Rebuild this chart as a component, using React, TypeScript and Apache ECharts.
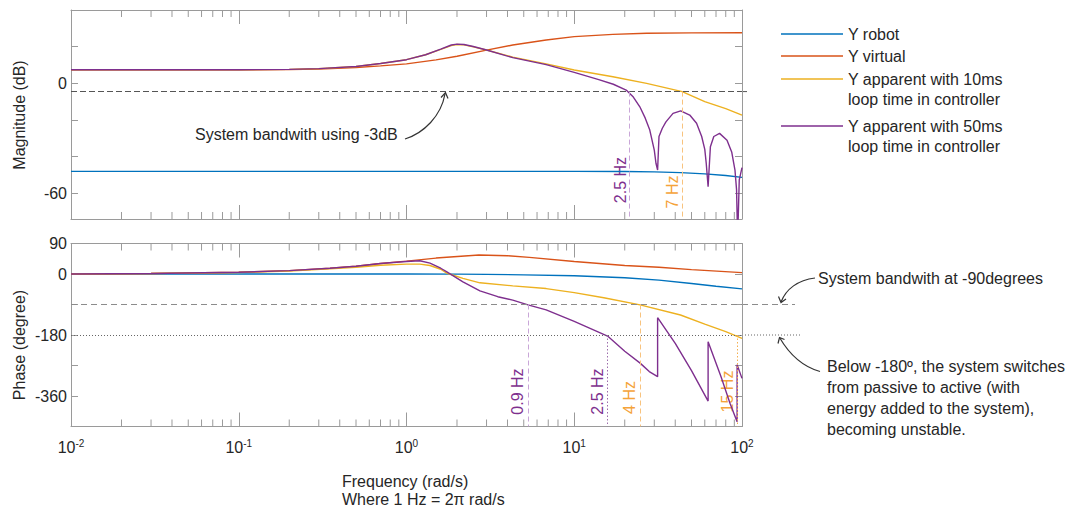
import { useEffect, useRef } from "react";
import * as echarts from "echarts";

// ---------- data (frequency in rad/s, values in dB / degrees) ----------
const SERIES_NAMES = [
  "Y robot",
  "Y virtual",
  "Y apparent with 10ms\nloop time in controller",
  "Y apparent with 50ms\nloop time in controller",
];
const COLORS = ["#0072BD", "#D95319", "#EDB120", "#7E2F8E"];

const magRobot: [number, number][] = [
  [0.01, -48], [1, -48], [10, -48], [20, -48.1], [30, -48.3], [43, -48.7], [60, -49.4], [80, -50.3], [100, -51.3],
];
const magVirtual: [number, number][] = [
  [0.01, 7.4], [0.1, 7.4], [0.2, 7.5], [0.3, 7.8], [0.5, 8.6], [0.7, 9.5], [1, 10.6], [1.5, 12.8], [2, 14.8],
  [3, 18.1], [4.3, 20.9], [6.8, 23.6], [10, 25.5], [17, 26.7], [27, 27.3], [50, 27.5], [100, 27.6],
];
const mag10ms: [number, number][] = [
  [0.01, 7.4], [0.1, 7.4], [0.2, 7.6], [0.3, 8.0], [0.5, 9.2], [0.7, 10.8], [1, 12.9], [1.3, 15.6], [1.6, 18.5],
  [1.85, 20.6], [2, 21.2], [2.2, 21.0], [2.5, 19.9], [3, 18.2], [4.3, 14.3], [6.8, 10.6], [10, 7.3], [17, 3.6],
  [27, 0], [44, -4.5], [60, -10], [80, -13.8], [100, -17.3],
];
const mag50ms: [number, number][] = [
  [0.01, 7.4], [0.1, 7.4], [0.2, 7.6], [0.3, 8.0], [0.5, 9.2], [0.7, 10.8], [1, 12.9], [1.3, 15.6], [1.6, 18.7],
  [1.85, 20.9], [2, 21.4], [2.2, 21.2], [2.5, 20.1], [3, 18.2], [4.3, 14.0], [6.8, 10.2], [10, 6.0], [14, 2.0],
  [17.1, -0.5], [20.4, -3.7], [22.5, -7.5], [24.6, -12.8], [26.5, -19], [28.2, -25.5], [30, -36.4], [30.7, -43.6],
  [31.4, -47.3], [32, -29], [33.5, -24.5], [35.2, -21], [38.8, -16.4], [43.1, -15], [48.8, -17.3], [53.6, -21.8],
  [57.5, -29], [60, -36], [61.2, -43.6], [62.8, -56.4], [64.8, -34.6], [67.9, -29], [73.5, -27.3], [81.4, -31],
  [86.8, -37.4], [90.8, -47.3], [92.8, -58], [94.2, -85], [96.3, -52.7], [100, -46],
];

const phaseRobot: [number, number][] = [
  [0.01, 0], [1, 0], [2, -0.5], [3, -1], [5, -2.5], [10, -5], [20, -11], [32, -18], [50, -28], [70, -36], [100, -44],
];
const phaseVirtual: [number, number][] = [
  [0.01, 0], [0.03, 1.5], [0.1, 5], [0.2, 10], [0.35, 17], [0.5, 23], [0.7, 31], [1, 38], [1.5, 47], [2.7, 56],
  [4, 54], [5.4, 49], [10, 37], [20, 25], [32, 20], [50, 13], [100, 4],
];
const phase10ms: [number, number][] = [
  [0.01, 0], [0.03, 1.5], [0.1, 4.5], [0.2, 9], [0.35, 15], [0.5, 20], [0.7, 26], [1, 29], [1.2, 29], [1.38, 25],
  [1.6, 14], [1.73, 3], [2.17, -13], [2.74, -26], [4.3, -35], [6.8, -43], [10, -55], [15, -70], [24.7, -91],
  [43, -121], [60, -148], [80, -170], [100, -190],
];
const phase50ms: [number, number][] = [
  [0.01, 0], [0.03, 1.5], [0.1, 5], [0.2, 10], [0.35, 17], [0.5, 23], [0.7, 31], [1, 37], [1.2, 39], [1.38, 32],
  [1.6, 17], [1.73, 7], [2.17, -23], [2.74, -50], [3.5, -67], [4.3, -77], [5.3, -91], [6.8, -106], [10, -140],
  [15.8, -183], [20, -228], [24.7, -263], [28, -288], [31.4, -303], [31.4, -129], [40, -205], [50, -285],
  [62.8, -375], [62.8, -200], [75, -303], [85, -383], [93.5, -436], [93.5, -268], [100, -308],
];

const X_EXP_RANGE = [-2, 2]; // decades (10^-2 .. 10^2 rad/s)
const MINOR_DECADES = [-2, -1, 0, 1];
const MINOR_MULTIPLIERS = [2, 3, 4, 5, 6, 7, 8, 9];
const MAG_RANGE = [-74, 40];
const MAG_LABELS = [0, -60];
const PHASE_RANGE = [-450, 90];
const PHASE_LABELS = [90, 0, -180, -360];

const BANDWIDTH_DB = -4.5;
const BANDWIDTH_DEG = -90;
const UNSTABLE_DEG = -180;

// marker frequencies (rad/s) where the curves cross the reference lines
const magMarkers = [
  { f: 21.2, from: BANDWIDTH_DB, label: "2.5 Hz", kind: "p", style: "dash" },
  { f: 44, from: BANDWIDTH_DB, label: "7 Hz", kind: "o", style: "dash" },
];
const phaseMarkers = [
  { f: 5.3, from: BANDWIDTH_DEG, label: "0.9 Hz", kind: "p", style: "dash" },
  { f: 15.8, from: UNSTABLE_DEG, label: "2.5 Hz", kind: "p", style: "dot" },
  { f: 24.7, from: BANDWIDTH_DEG, label: "4 Hz", kind: "o", style: "dash" },
  { f: 93.5, from: UNSTABLE_DEG, label: "15 Hz", kind: "o", style: "dot" },
];

// ---------- styling ----------
const FONT = "'Liberation Sans', Arial, Helvetica, sans-serif";
const TEXT = "#262626";
const FRAME = "#9a9a9a";
const PURPLE_TXT = "#7E2F8E";
const ORANGE_TXT = "#F5A33A";
const LINE_COL: Record<string, Record<string, string>> = {
  p: { dash: "#c9a6d8", dot: "#9c6cab" },
  o: { dash: "#f8c37e", dot: "#f4ae4e" },
};

const lg = (f: number) => Math.log10(f);
const toXY = (pts: [number, number][]) => pts.map(([f, v]) => [lg(f), v]);

const MINOR_TICKS: number[] = [];
MINOR_DECADES.forEach((d) => MINOR_MULTIPLIERS.forEach((m) => MINOR_TICKS.push(lg(m * Math.pow(10, d)))));

export default function App() {
  const ref = useRef<HTMLDivElement>(null);

  useEffect(() => {
    if (!ref.current) return;
    const chart = echarts.init(ref.current, null, { renderer: "svg", width: 1072, height: 510 });

    const grids = [
      { left: 71, top: 10, width: 671, height: 209 },
      { left: 71, top: 243.5, width: 671, height: 183 },
    ];

    const xAxisBase = (gridIndex: number, position: string, showLabel: boolean) => ({
      type: "value",
      gridIndex,
      position,
      min: X_EXP_RANGE[0],
      max: X_EXP_RANGE[1],
      interval: 1,
      axisLine: { show: true, onZero: false, lineStyle: { color: FRAME, width: 1 } },
      axisTick: { show: true, inside: true, length: 14, lineStyle: { color: FRAME, width: 1 } },
      splitLine: { show: false },
      axisLabel: showLabel
        ? {
            show: true,
            margin: 12,
            formatter: (v: number) => `{b|10}{s|${v}}`,
            rich: {
              b: { fontSize: 16, fontFamily: FONT, color: TEXT, lineHeight: 18 },
              s: { fontSize: 10, fontFamily: FONT, color: TEXT, verticalAlign: "top", lineHeight: 11 },
            },
          }
        : { show: false },
    });

    const yAxisBase = (
      gridIndex: number,
      position: string,
      range: number[],
      labels: number[] | null,
      extra: any
    ) => ({
      type: "value",
      gridIndex,
      position,
      min: range[0],
      max: range[1],
      ...extra,
      axisLine: { show: true, onZero: false, lineStyle: { color: FRAME, width: 1 } },
      axisTick: { show: true, inside: true, length: 7, lineStyle: { color: FRAME, width: 1 } },
      splitLine: { show: false },
      axisLabel: labels
        ? {
            show: true,
            margin: 4,
            fontSize: 16,
            fontFamily: FONT,
            color: TEXT,
            formatter: (v: number) => (labels.indexOf(v) >= 0 ? String(v) : ""),
          }
        : { show: false },
    });

    const minorTickSeries = (xi: number, yi: number, range: number[]) => ({
      type: "custom",
      xAxisIndex: xi,
      yAxisIndex: yi,
      silent: true,
      z: 5,
      data: MINOR_TICKS.map((v) => [v, range[0]]),
      encode: { x: 0, y: 1 },
      renderItem: (_p: any, api: any) => {
        const x = api.value(0);
        const b = api.coord([x, range[0]]);
        const t = api.coord([x, range[1]]);
        return {
          type: "group",
          children: [
            { type: "line", shape: { x1: b[0], y1: b[1], x2: b[0], y2: b[1] - 7 }, style: { stroke: FRAME, lineWidth: 1 } },
            { type: "line", shape: { x1: t[0], y1: t[1], x2: t[0], y2: t[1] + 7 }, style: { stroke: FRAME, lineWidth: 1 } },
          ],
        };
      },
    });

    const lineSeries = (name: string, color: string, pts: [number, number][], xi: number, yi: number, markLine?: any) => ({
      type: "line",
      name,
      xAxisIndex: xi,
      yAxisIndex: yi,
      data: toXY(pts),
      showSymbol: false,
      symbol: "none",
      clip: true,
      lineStyle: { color, width: 1.4 },
      itemStyle: { color },
      z: 3,
      ...(markLine ? { markLine } : {}),
    });

    const vLine = (m: any, bottom: number) => [
      {
        coord: [lg(m.f), m.from],
        lineStyle: { color: LINE_COL[m.kind][m.style], type: m.style === "dash" ? [5, 3] : [1.5, 2], width: 1 },
      },
      { coord: [lg(m.f), bottom + 0.5] },
    ];

    const magMarkLine = {
      silent: true,
      symbol: ["none", "none"],
      label: { show: false },
      animation: false,
      data: [
        { yAxis: BANDWIDTH_DB, lineStyle: { color: "#555", type: [6, 3], width: 1 } },
        ...magMarkers.map((m) => vLine(m, MAG_RANGE[0])),
      ],
    };
    const phaseMarkLine = {
      silent: true,
      symbol: ["none", "none"],
      label: { show: false },
      animation: false,
      data: [
        { yAxis: BANDWIDTH_DEG, lineStyle: { color: "#8c8c8c", type: [6, 4], width: 1 } },
        { yAxis: UNSTABLE_DEG, lineStyle: { color: "#666", type: [1, 2], width: 1 } },
        ...phaseMarkers.map((m) => vLine(m, PHASE_RANGE[0])),
      ],
    };

    // pixel helpers for annotations (same geometry as grids)
    const gx = (f: number) => 71 + ((lg(f) - X_EXP_RANGE[0]) / (X_EXP_RANGE[1] - X_EXP_RANGE[0])) * 671;
    const yMag = (v: number) => 10 + ((MAG_RANGE[1] - v) / (MAG_RANGE[1] - MAG_RANGE[0])) * 209;
    const yPh = (v: number) => 243.5 + ((PHASE_RANGE[1] - v) / (PHASE_RANGE[1] - PHASE_RANGE[0])) * 183;

    const txt = (text: string, x: number, y: number, extra: any = {}, elExtra: any = {}) => ({
      type: "text",
      x,
      y,
      silent: true,
      ...elExtra,
      style: {
        text,
        fill: TEXT,
        fontSize: 16,
        fontFamily: FONT,
        align: "left",
        verticalAlign: "middle",
        textAlign: "left",
        textVerticalAlign: "middle",
        ...extra,
      },
    });

    const hzLabel = (label: string, x: number, y: number, color: string) =>
      txt(label, x, y, { fill: color, align: "center", textAlign: "center" }, { rotation: Math.PI / 2 });

    const legendRows = [34, 56, 79, 126];
    const legendEls: any[] = [];
    SERIES_NAMES.forEach((n, i) => {
      legendEls.push({
        type: "line",
        silent: true,
        shape: { x1: 781, y1: legendRows[i], x2: 843, y2: legendRows[i] },
        style: { stroke: COLORS[i], lineWidth: 1.6 },
      });
      legendEls.push(
        txt(n, 848, legendRows[i] - 10, { verticalAlign: "top", textVerticalAlign: "top", lineHeight: 20 })
      );
    });

    const arrow = (curve: number[], head: number[]) => [
      {
        type: "bezierCurve",
        silent: true,
        shape: { x1: curve[0], y1: curve[1], cpx1: curve[2], cpy1: curve[3], cpx2: curve[4], cpy2: curve[5], x2: curve[6], y2: curve[7] },
        style: { stroke: "#333", lineWidth: 1.2, fill: null },
      },
      {
        type: "polyline",
        silent: true,
        shape: { points: [[head[0], head[1]], [head[2], head[3]], [head[4], head[5]]] },
        style: { stroke: "#333", lineWidth: 1.2, fill: null },
      },
    ];

    const graphics: any[] = [
      txt("Magnitude (dB)", 19, 115, { align: "center", textAlign: "center" }, { rotation: Math.PI / 2 }),
      txt("Phase (degree)", 19, 345, { align: "center", textAlign: "center" }, { rotation: Math.PI / 2 }),
      txt("Frequency (rad/s)\nWhere 1 Hz = 2\u03c0 rad/s", 342, 473, { verticalAlign: "top", textVerticalAlign: "top", lineHeight: 17.6 }),
      ...legendEls,
      txt("System bandwith using -3dB", 195, 134),
      txt("System bandwith at -90degrees", 818, 278),
      txt(
        "Below -180\u00ba, the system switches\nfrom passive to active (with\nenergy added to the system),\nbecoming unstable.",
        827,
        356,
        { verticalAlign: "top", textVerticalAlign: "top", lineHeight: 21 }
      ),
      // reference-line extensions to the right of the plots
      {
        type: "line", silent: true,
        shape: { x1: 742, y1: yMag(BANDWIDTH_DB), x2: 747, y2: yMag(BANDWIDTH_DB) },
        style: { stroke: "#555", lineDash: [6, 3], lineWidth: 1 },
      },
      {
        type: "line", silent: true,
        shape: { x1: 742, y1: yPh(BANDWIDTH_DEG), x2: 795, y2: yPh(BANDWIDTH_DEG) },
        style: { stroke: "#8c8c8c", lineDash: [6, 4], lineWidth: 1 },
      },
      {
        type: "line", silent: true,
        shape: { x1: 742, y1: yPh(UNSTABLE_DEG), x2: 802, y2: yPh(UNSTABLE_DEG) },
        style: { stroke: "#666", lineDash: [1, 2], lineWidth: 1 },
      },
      ...arrow([405, 139, 424, 133, 441, 116, 445, 94], [441, 97.5, 445.5, 92.7, 448, 98.5]),
      ...arrow([815, 278, 798, 280, 786, 289, 781, 302], [778.5, 296.5, 781, 302.5, 786, 299]),
      ...arrow([820, 371.5, 800, 366, 788, 352, 779.5, 337.5], [778, 343.5, 779.5, 337.5, 784.5, 339.5]),
      hzLabel("2.5 Hz", 620, 180, PURPLE_TXT),
      hzLabel("7 Hz", 672, 192, ORANGE_TXT),
      hzLabel("0.9 Hz", 517.5, 391.5, PURPLE_TXT),
      hzLabel("2.5 Hz", 597, 391.5, PURPLE_TXT),
      hzLabel("4 Hz", 629.5, 397.5, ORANGE_TXT),
      hzLabel("15 Hz", 727, 391.5, ORANGE_TXT),
    ];
    void gx;

    chart.setOption({
      animation: false,
      backgroundColor: "#ffffff",
      textStyle: { fontFamily: FONT },
      grid: grids,
      xAxis: [
        xAxisBase(0, "bottom", false),
        xAxisBase(0, "top", false),
        xAxisBase(1, "bottom", true),
        xAxisBase(1, "top", false),
      ],
      yAxis: [
        yAxisBase(0, "left", MAG_RANGE, MAG_LABELS, { splitNumber: 5 }),
        yAxisBase(0, "right", MAG_RANGE, null, { splitNumber: 5 }),
        yAxisBase(1, "left", PHASE_RANGE, PHASE_LABELS, { interval: 90 }),
        yAxisBase(1, "right", PHASE_RANGE, null, { interval: 90 }),
      ],
      series: [
        lineSeries(SERIES_NAMES[0], COLORS[0], magRobot, 0, 0, magMarkLine),
        lineSeries(SERIES_NAMES[1], COLORS[1], magVirtual, 0, 0),
        lineSeries(SERIES_NAMES[2], COLORS[2], mag10ms, 0, 0),
        lineSeries(SERIES_NAMES[3], COLORS[3], mag50ms, 0, 0),
        lineSeries(SERIES_NAMES[0], COLORS[0], phaseRobot, 2, 2, phaseMarkLine),
        lineSeries(SERIES_NAMES[1], COLORS[1], phaseVirtual, 2, 2),
        lineSeries(SERIES_NAMES[2], COLORS[2], phase10ms, 2, 2),
        lineSeries(SERIES_NAMES[3], COLORS[3], phase50ms, 2, 2),
        minorTickSeries(0, 0, MAG_RANGE),
        minorTickSeries(2, 2, PHASE_RANGE),
      ],
      graphic: graphics,
    });

    return () => chart.dispose();
  }, []);

  return (
    <div
      ref={ref}
      style={{ position: "absolute", left: 0, top: 0, width: 1072, height: 510, background: "#fff" }}
    />
  );
}
